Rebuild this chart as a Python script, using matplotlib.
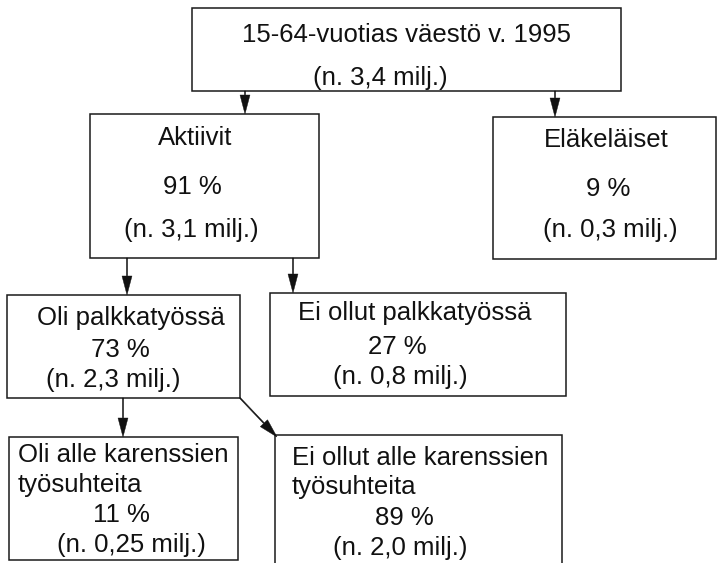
#!/usr/bin/env python3
# -*- coding: utf-8 -*-
"""
Flow chart: 15-64-vuotias vaesto v. 1995 split into groups.
"""
import matplotlib
matplotlib.use('Agg')
import matplotlib.pyplot as plt
from matplotlib.patches import Rectangle

plt.rcParams['font.family'] = ['Liberation Sans', 'DejaVu Sans']

#Data (text of the boxes)
titles = ["15-64-vuotias väestö v. 1995", "Aktiivit", "Eläkeläiset",
          "Oli palkkatyössä", "Ei ollut palkkatyössä",
          "Oli alle karenssien", "Ei ollut alle karenssien"]
subtitles = [None, None, None, None, None, "työsuhteita", "työsuhteita"]
share_pct = [None, 91, 9, 73, 27, 11, 89]
count_milj = ["3,4", "3,1", "0,3", "2,3", "0,8", "0,25", "2,0"]
#parent -> child links
links = [(0, 1), (0, 2), (1, 3), (1, 4), (3, 5), (3, 6)]

#Layout, in pixels of the 717x563 picture (y grows downwards)
boxes = [(192, 8, 621, 91), (90, 114, 319, 258), (493, 117, 716, 259),
         (7, 295, 240, 398), (270, 293, 566, 396),
         (9, 437, 238, 560), (275, 435, 562, 575)]
#(x, y, ha) for title, subtitle, share, count lines
title_pos = [(407, 35, 'center'), (195, 138, 'center'), (606, 140, 'center'),
             (131, 318, 'center'), (415, 313, 'center'),
             (18, 455, 'left'), (292, 458, 'left')]
sub_pos = [None, None, None, None, None, (18, 485), (292, 487)]
share_pos = [None, (192, 187), (608, 189), (120, 350), (397, 347),
             (121, 515), (404, 518)]
count_pos = [(380, 78), (191, 230), (610, 230), (113, 380), (400, 377),
             (131, 545), (400, 548)]
#arrow start and end points for each link
arrow_xy = [((245, 91), (245, 114)), ((555, 91), (555, 117)),
            ((127, 258), (127, 295)), ((293, 258), (293, 293)),
            ((123, 398), (123, 437)), ((240, 398), (277, 437))]

fs = 18.5

fig = plt.figure(figsize=(7.17, 5.63), dpi=100)
ax = fig.add_axes([0, 0, 1, 1])
ax.set_xlim(0, 717)
ax.set_ylim(563, 0)
ax.axis('off')

for (x0, y0, x1, y1) in boxes:
    ax.add_patch(Rectangle((x0, y0), x1 - x0, y1 - y0, fill=False,
                           ec='#1a1a1a', lw=1.1, clip_on=False))

for i in range(len(titles)):
    x, y, ha = title_pos[i]
    ax.text(x, y, titles[i], ha=ha, va='center', fontsize=fs, color='#111111')
    if subtitles[i] is not None:
        ax.text(sub_pos[i][0], sub_pos[i][1], subtitles[i], ha='left',
                va='center', fontsize=fs, color='#111111')
    if share_pct[i] is not None:
        ax.text(share_pos[i][0], share_pos[i][1], '%d %%' % share_pct[i],
                ha='center', va='center', fontsize=fs, color='#111111')
    ax.text(count_pos[i][0], count_pos[i][1], '(n. %s milj.)' % count_milj[i],
            ha='center', va='center', fontsize=fs, color='#111111')

for (p0, p1) in arrow_xy:
    ax.arrow(p0[0], p0[1], p1[0] - p0[0], p1[1] - p0[1], width=1.2,
             head_width=10, head_length=19, length_includes_head=True,
             fc='#111111', ec='#111111', lw=0.3)

fig.savefig('out.png', dpi=100)
